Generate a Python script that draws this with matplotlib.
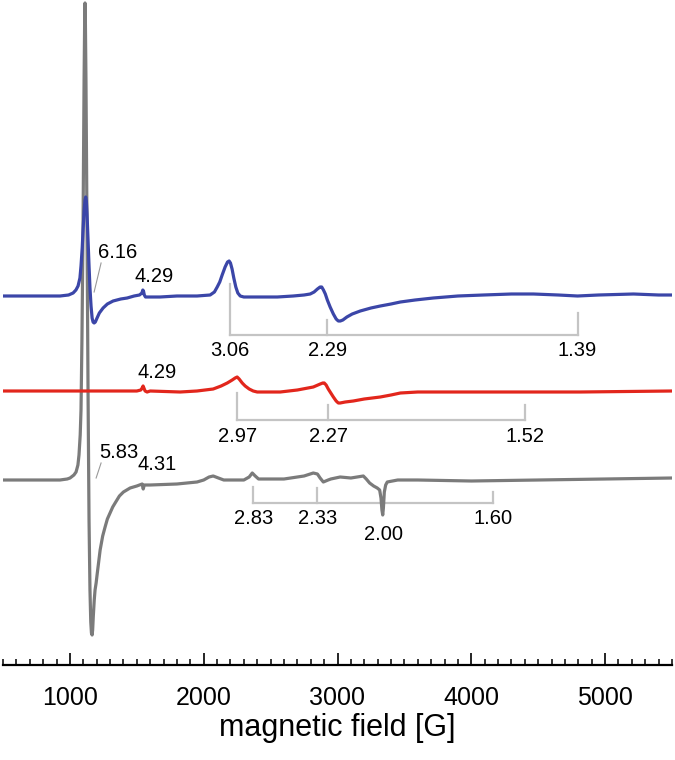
import matplotlib.pyplot as plt
from matplotlib.ticker import MultipleLocator
import numpy as np

plt.rcParams['font.family'] = ['Liberation Sans', 'DejaVu Sans']

# EPR derivative spectra, field [G] and intensity (arb. units, relative to own baseline)
blue_field = [500, 926, 990, 1024, 1045, 1061, 1075, 1083, 1092, 1098, 1106, 1113, 1118, 1123,
              1128, 1135, 1143, 1150, 1158, 1166, 1173, 1181, 1190, 1203, 1220, 1248, 1280, 1323,
              1380, 1428, 1480, 1520, 1538, 1545, 1550, 1556, 1565, 1580, 1674, 1800, 1950, 2048,
              2080, 2101, 2120, 2138, 2160, 2178, 2190, 2200, 2212, 2225, 2240, 2255, 2273, 2300,
              2422, 2550, 2669, 2750, 2796, 2825, 2850, 2870, 2882, 2895, 2909, 2924, 2945, 2969,
              2990, 3006, 3021, 3040, 3070, 3110, 3170, 3250, 3320, 3400, 3470, 3580, 3716, 3900,
              4090, 4300, 4464, 4650, 4794, 4950, 5212, 5400, 5504]
blue_int = [0, 0, 1, 3, 6, 10, 18, 30, 48, 65, 85, 96, 99, 95,
            82, 58, 30, 8, -10, -22, -26, -27, -26, -22, -17, -12, -8, -5,
            -3, -2, 0, 1, 3, 6, 5, 1, -1, -1, -1, 0, 0, 1,
            4, 9, 14, 21, 29, 34, 35, 33, 27, 18, 9, 3, 0, -1,
            -1, -1, 0, 1, 2, 4, 7, 9, 9, 6, 2, -4, -11, -18,
            -23, -25, -25, -24, -21, -18, -15, -12, -10, -8, -6, -4, -2, 0,
            1, 2, 2, 1, 0, 1, 2, 1, 1]

red_field = [500, 1500, 1530, 1540, 1547, 1553, 1562, 1577, 1600, 1824, 1950, 2071, 2130, 2176,
             2213, 2235, 2250, 2265, 2288, 2310, 2340, 2370, 2400, 2572, 2700, 2819, 2871, 2890,
             2901, 2915, 2931, 2950, 2969, 2990, 3006, 3020, 3058, 3118, 3200, 3320, 3400, 3470,
             3600, 3821, 4315, 4816, 5500]
red_int = [0, 0, 1, 3, 5, 3, 0, -1, 0, -1, 0, 2, 5, 8,
           11, 13, 14, 12, 8, 5, 2, 0, -1, -1, 1, 4, 7, 8,
           8, 6, 2, -2, -6, -10, -12, -12, -11, -10, -8, -6, -4, -2,
           -1, -1, -1, -1, 0]

gray_field = [500, 926, 980, 1001, 1030, 1046, 1060, 1068, 1077, 1083, 1090, 1098, 1106, 1110,
              1113, 1116, 1120, 1128, 1136, 1143, 1150, 1156, 1161, 1166, 1170, 1175, 1182, 1188,
              1196, 1203, 1215, 1226, 1245, 1263, 1280, 1300, 1320, 1338, 1370, 1400, 1450, 1500,
              1540, 1548, 1556, 1600, 1800, 1950, 2000, 2040, 2071, 2110, 2150, 2300, 2340, 2363,
              2385, 2410, 2600, 2750, 2819, 2850, 2870, 2894, 2930, 2950, 3020, 3100, 3193, 3215,
              3240, 3270, 3297, 3315, 3325, 3332, 3338, 3343, 3350, 3360, 3372, 3450, 3600, 4000,
              4500, 5000, 5500]
gray_int = [0, 0, 1, 2, 5, 8, 15, 25, 45, 70, 140, 250, 400, 455,
            477, 455, 400, 250, 80, -40, -110, -142, -153, -155, -150, -136, -120, -110,
            -103, -95, -82, -70, -56, -47, -39, -33, -27, -23, -16, -12, -8, -6,
            -4, -9, -5, -5, -4, -2, 0, 3, 4, 2, 0, 0, 3, 7,
            4, 1, 1, 4, 7, 6, 2, -2, 0, 1, 3, 2, 4, 1,
            -3, -6, -8, -10, -18, -30, -35, -28, -12, -5, -2, 0, 0, -1,
            0, 1, 2]

offsets = {'blue': 369, 'red': 274, 'gray': 185}
colors = {'blue': '#3b46a8', 'red': '#e2261c', 'gray': '#7b7b7b'}

# g-value brackets: field positions of ticks, labels
blue_g = ['3.06', '2.29', '1.39']
blue_g_field = [2198, 2924, 4794]
red_g = ['2.97', '2.27', '1.52']
red_g_field = [2250, 2931, 4405]
gray_g = ['2.83', '2.33', '1.60']
gray_g_field = [2370, 2849, 4165]

fig = plt.figure(figsize=(6.75, 7.6), dpi=100)
ax = fig.add_axes([3 / 675, 95 / 760, 669 / 675, 665 / 760])

ax.plot(gray_field, np.array(gray_int) + offsets['gray'], color=colors['gray'], lw=2.3,
        solid_joinstyle='round', zorder=3)
ax.plot(red_field, np.array(red_int) + offsets['red'], color=colors['red'], lw=2.3,
        solid_joinstyle='round', zorder=4)
ax.plot(blue_field, np.array(blue_int) + offsets['blue'], color=colors['blue'], lw=2.3,
        solid_joinstyle='round', zorder=5)

bc = '#c4c4c4'
def bracket(fields, tops, ybar, labels, ylab):
    ax.plot([fields[0], fields[-1]], [ybar, ybar], color=bc, lw=1.6, zorder=2)
    for f, t, lab in zip(fields, tops, labels):
        ax.plot([f, f], [ybar, t], color=bc, lw=1.6, zorder=2)
        ax.text(f, ylab, lab, ha='center', va='center', fontsize=14.5)

bracket(blue_g_field, [381, 345, 352], 330, blue_g, 314)
bracket(red_g_field, [272, 260, 260], 245, red_g, 229)
bracket(gray_g_field, [178, 177, 173], 162, gray_g, 147)
ax.text(3342, 130, '2.00', ha='center', va='center', fontsize=14.5)

# labels of the low-field lines
ax.text(1353, 412, '6.16', ha='center', va='center', fontsize=14.5)
ax.plot([1233, 1181], [402, 373], color='#999999', lw=0.8, zorder=2)
ax.text(1629, 388, '4.29', ha='center', va='center', fontsize=14.5)
ax.text(1652, 293, '4.29', ha='center', va='center', fontsize=14.5)
ax.text(1368, 213, '5.83', ha='center', va='center', fontsize=14.5)
ax.plot([1233, 1196], [202, 187], color='#999999', lw=0.8, zorder=2)
ax.text(1652, 200, '4.31', ha='center', va='center', fontsize=14.5)

ax.set_xlim(500, 5500)
ax.set_ylim(0, 665)
for s in ['top', 'left', 'right']:
    ax.spines[s].set_visible(False)
ax.spines['bottom'].set_linewidth(1.6)
ax.set_yticks([])
ax.xaxis.set_major_locator(MultipleLocator(1000))
ax.xaxis.set_minor_locator(MultipleLocator(100))
ax.tick_params(axis='x', which='major', direction='in', length=8.5, width=1.2, labelsize=18, pad=15)
ax.tick_params(axis='x', which='minor', direction='in', length=4.5, width=1.1)
ax.set_xlabel('magnetic field [G]', fontsize=22, labelpad=2)

fig.savefig('out.png', dpi=100)
